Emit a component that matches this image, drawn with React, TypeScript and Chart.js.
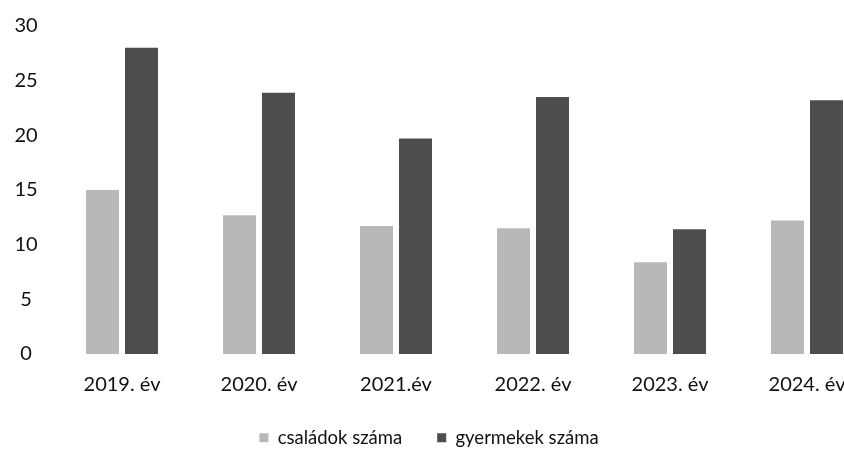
import React, { useEffect, useRef } from "react";
import { Chart, registerables } from "chart.js";

Chart.register(...registerables);

const categories = ["2019. év", "2020. év", "2021.év", "2022. év", "2023. év", "2024. év"];
const seriesNames = ["családok száma", "gyermekek száma"];
const csaladok = [15, 12.7, 11.7, 11.5, 8.4, 12.2];
const gyermekek = [28, 23.9, 19.7, 23.5, 11.4, 23.2];

export default function App() {
  const ref = useRef<HTMLCanvasElement | null>(null);

  useEffect(() => {
    if (!ref.current) return;
    const font = { family: "Lato", size: 20 };
    const chart = new Chart(ref.current, {
      type: "bar",
      data: {
        labels: categories,
        datasets: [
          { label: seriesNames[0], data: csaladok, backgroundColor: "#b8b8b8", borderWidth: 0, clip: false as any },
          { label: seriesNames[1], data: gyermekek, backgroundColor: "#4d4d4d", borderWidth: 0, clip: false as any },
        ],
      },
      options: {
        animation: false,
        responsive: false,
        layout: { padding: { left: 14, right: 0, top: 26, bottom: 0 } },
        datasets: { bar: { categoryPercentage: 0.569, barPercentage: 0.846 } } as any,
        scales: {
          x: {
            offset: false,
            grid: { display: false, drawTicks: false },
            border: { display: false },
            ticks: { color: "#111", font, padding: 19, maxRotation: 0, autoSkip: false },
            afterFit: (s: any) => {
              s.height = 39.5;
              s.paddingLeft = 0;
              s.paddingRight = 37;
            },
          },
          y: {
            min: 0,
            max: 30,
            grid: { display: false, drawTicks: false },
            border: { display: false },
            ticks: { color: "#111", font, padding: 84.4, stepSize: 5, crossAlign: "center" },
            afterFit: (s: any) => {
              s.width = 108;
              s.paddingTop = 0;
              s.paddingBottom = 0;
            },
          },
        },
        plugins: {
          legend: {
            position: "bottom",
            labels: { color: "#111", font: { family: "Lato", size: 18.5 }, boxWidth: 9, boxHeight: 9, padding: 35 },
          },
          tooltip: { enabled: false },
        },
      },
    });
    let alive = true;
    if ((document as any).fonts && (document as any).fonts.load) {
      Promise.all([
        (document as any).fonts.load('20px "Lato"'),
        (document as any).fonts.load('18.5px "Lato"'),
      ]).then(() => {
        if (alive) chart.update();
      }).catch(() => {});
    }
    return () => {
      alive = false;
      chart.destroy();
    };
  }, []);

  return (
    <div style={{ position: "fixed", left: 0, top: 0, width: 844, height: 451, overflow: "hidden", background: "#fff" }}>
      <canvas ref={ref} width={844} height={457} style={{ display: "block" }} />
    </div>
  );
}
